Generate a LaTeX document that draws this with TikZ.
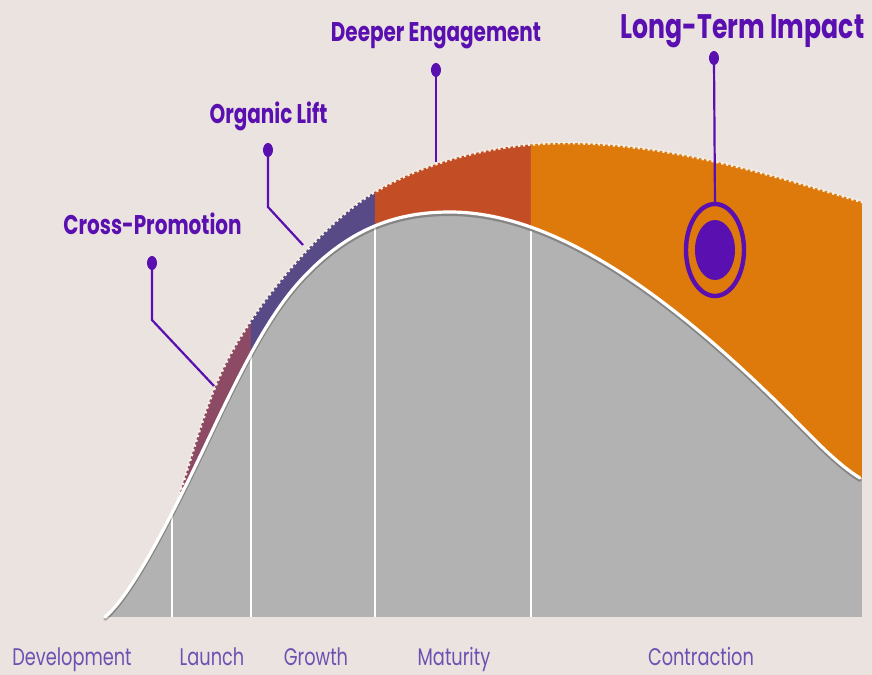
\documentclass[tikz,border=0pt]{standalone}
\usepackage{fontspec}
\setmainfont{Poppins}
\usetikzlibrary{shapes.geometric}
\definecolor{cBg}{HTML}{EAE3E0}
\definecolor{cGray}{HTML}{B2B2B2}
\definecolor{cMaroon}{HTML}{8D4A65}
\definecolor{cSlate}{HTML}{584A86}
\definecolor{cRust}{HTML}{C34E25}
\definecolor{cOrange}{HTML}{DE7A0C}
\definecolor{cLabel}{HTML}{5A0FB0}
\definecolor{cStage}{HTML}{6E50B2}
\definecolor{cTeeth}{HTML}{FAF0E4}
\newcommand{\topedge}{(178,499) .. controls (190,462) and (200,425) .. (213,392) .. controls (225,362) and (235,345) .. (250,322) .. controls (280,276) and (333,217) .. (373,193) .. controls (433,157) and (505,143) .. (565,143) .. controls (665,143) and (763,172) .. (862,202)}
\newcommand{\mainedge}{(105,617) .. controls (135,592) and (180,499) .. (215,425) .. controls (248,356) and (272,312) .. (300,281) .. controls (350,226) and (400,212) .. (450,212) .. controls (560,212) and (680,305) .. (790,415) .. controls (813,438) and (837,464) .. (860,478)}
\newcommand{\bandfill}{\topedge -- (862,617) -- (178,617) -- cycle}
\begin{document}
\begin{tikzpicture}[x=1pt,y=-1pt,scale=0.25,every node/.append style={transform shape},
  lbl/.style={font=\bfseries\fontsize{27}{30}\selectfont, text=cLabel, xscale=0.74, inner sep=0pt, anchor=base},
  stage/.style={font=\fontsize{24}{28}\selectfont, text=cStage, xscale=0.74, inner sep=0pt, anchor=base},
  pin/.style={ellipse, fill=cLabel, minimum width=10pt, minimum height=14pt, inner sep=0pt},
  lead/.style={draw=cLabel, line width=0.55pt},
  divider/.style={draw=white, line width=0.4pt},
  teeth/.style={draw=cTeeth, line width=0.7pt, dash pattern=on 0.55pt off 0.7pt}]
\fill[cBg] (0,0) rectangle (872,675);
\useasboundingbox (0,0) rectangle (872,675);
% coloured bands
\begin{scope}\clip (0,0) rectangle (251,675); \fill[cMaroon] \bandfill; \end{scope}
\begin{scope}\clip (251,0) rectangle (375,675); \fill[cSlate] \bandfill; \end{scope}
\begin{scope}\clip (375,0) rectangle (531,675); \fill[cRust] \bandfill; \end{scope}
\begin{scope}\clip (531,0) rectangle (872,675); \fill[cOrange] \bandfill; \end{scope}
\draw[teeth] \topedge;
% grey area
\fill[cGray] \mainedge -- (862,478) -- (862,617) -- (105,617) -- cycle;
% stage dividers
\draw[divider] (172,514) -- (172,617);
\draw[divider] (251,354) -- (251,617);
\draw[divider] (375,228) -- (375,617);
\draw[divider] (531,231) -- (531,617);
% white curve with shadow
\draw[black, opacity=0.25, line width=0.9pt, line cap=round, shift={(0,2.2)}] \mainedge;
\draw[white, line width=0.8pt, line cap=round] \mainedge;
% pins and leaders
\node[pin] (p1) at (152,263) {};
\coordinate (k1) at (152,320);
\coordinate (e1) at (214,386);
\draw[lead] (p1.center) -- (k1) -- (e1);
\node[pin] (p2) at (268,150) {};
\coordinate (k2) at (268,207);
\coordinate (e2) at (303,245);
\draw[lead] (p2.center) -- (k2) -- (e2);
\node[pin] (p3) at (436,70) {};
\coordinate (e3) at (436,162);
\draw[lead] (p3.center) -- (e3);
\node[ellipse, draw=cLabel, line width=1.1pt, minimum width=58pt, minimum height=92pt, inner sep=0pt] (ring) at (715,250) {};
\node[ellipse, fill=cLabel, minimum width=40pt, minimum height=60pt, inner sep=0pt] (core) at (715,250) {};
\node[pin] (p4) at (714,58) {};
\draw[lead] (p4.center) -- (ring.north);
% labels
\node[lbl] (tCross) at (152.5,235) {Cross-Promotion};
\node[lbl] (tOrg) at (268.5,123) {Organic Lift};
\node[lbl] (tDeep) at (436,41) {Deeper Engagement};
\node[lbl, font=\bfseries\fontsize{34}{36}\selectfont] (tLong) at (742.5,38) {Long-Term Impact};
\node[stage] (sDev) at (72,666) {Development};
\node[stage] (sLau) at (212,666) {Launch};
\node[stage] (sGro) at (316,666) {Growth};
\node[stage] (sMat) at (454,666) {Maturity};
\node[stage] (sCon) at (701,666) {Contraction};
\end{tikzpicture}
\end{document}
